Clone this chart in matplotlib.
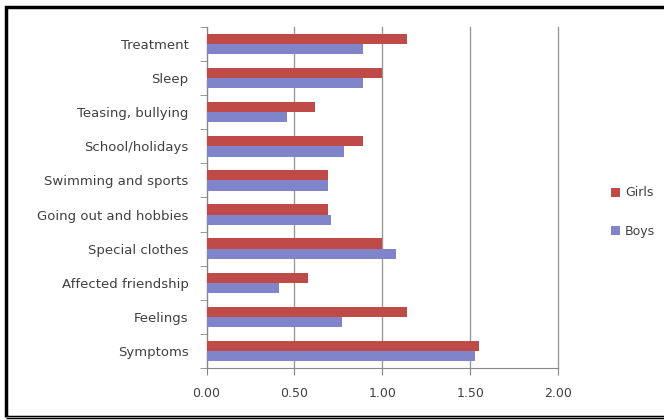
import matplotlib
matplotlib.use("Agg")
import matplotlib.pyplot as plt
import numpy as np
from matplotlib.patches import Rectangle

categories = ["Symptoms", "Feelings", "Affected friendship", "Special clothes",
              "Going out and hobbies", "Swimming and sports", "School/holidays",
              "Teasing, bullying", "Sleep", "Treatment"]
girls = [1.55, 1.14, 0.58, 1.00, 0.69, 0.69, 0.89, 0.62, 1.00, 1.14]
boys = [1.53, 0.77, 0.41, 1.08, 0.71, 0.69, 0.78, 0.46, 0.89, 0.89]
xticks = [0.0, 0.5, 1.0, 1.5, 2.0]
xticklabels = ["0.00", "0.50", "1.00", "1.50", "2.00"]

girls_color = "#BE4B48"
boys_color = "#7F84CB"
text_color = "#404040"

fig = plt.figure(figsize=(6.64, 4.2), dpi=100)
W, H = 664, 420
ax = fig.add_axes([206.5 / W, 1 - 368 / H, (558 - 206.5) / W, (368 - 27) / H])

y = np.arange(len(categories))
h = 0.30
ax.barh(y + h / 2, girls, height=h, color=girls_color, label="Girls", zorder=3)
ax.barh(y - h / 2, boys, height=h, color=boys_color, label="Boys", zorder=3)

ax.set_xlim(0, 2.0)
ax.set_ylim(-0.5, len(categories) - 0.5)
ax.set_xticks(xticks)
ax.set_xticklabels(xticklabels, color=text_color, fontsize=9)
ax.set_yticks(y)
ax.set_yticklabels(categories, color=text_color, fontsize=9.5)
ax.tick_params(axis="y", length=0, pad=13)
ax.set_yticks(np.arange(-0.5, len(categories)), minor=True)
ax.tick_params(axis="y", which="minor", length=5, color="#888888", direction="out")
ax.tick_params(axis="x", length=5, color="#888888", direction="out", pad=9)
ax.grid(axis="x", color="#999999", linewidth=1, zorder=0)
for ln in ax.get_xgridlines():
    ln.set_clip_on(False)
for s in ["top", "right"]:
    ax.spines[s].set_visible(False)
for s in ["left", "bottom"]:
    ax.spines[s].set_color("#888888")

handles, labels = ax.get_legend_handles_labels()
leg = fig.legend(handles, labels, loc="center left",
                 bbox_to_anchor=(600 / W, 1 - 212 / H), frameon=False,
                 fontsize=9, handlelength=0.7, handleheight=0.7,
                 labelspacing=2.0, handletextpad=0.4)
for t in leg.get_texts():
    t.set_color(text_color)

# outer frame
fig.patches.append(Rectangle((6 / W, 3 / H), 700 / W, (415 - 5) / H,
                             transform=fig.transFigure, fill=False,
                             edgecolor="black", linewidth=2.5))
fig.patches.append(Rectangle((6 / W, 1 - 418 / H), 700 / W, 1 / H,
                             transform=fig.transFigure, fill=True,
                             facecolor="#999999", edgecolor="none"))

fig.savefig("out.png", dpi=100)
